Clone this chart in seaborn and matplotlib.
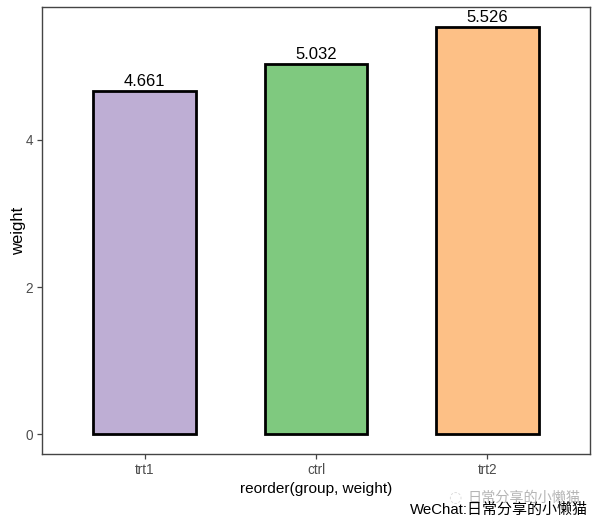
import matplotlib
matplotlib.use("Agg")
import matplotlib.pyplot as plt
import seaborn as sns
import pandas as pd
import matplotlib.patheffects as pe

groups = ["trt1", "ctrl", "trt2"]
weights = [4.661, 5.032, 5.526]
labels = ["4.661", "5.032", "5.526"]
colors = ["#BEAED4", "#7FC97F", "#FDC086"]
yticks = [0, 2, 4]

sns.set_theme(style="white")
plt.rcParams["font.family"] = ["Liberation Sans", "Noto Sans CJK SC", "DejaVu Sans"]

W, H = 598, 526
fig = plt.figure(figsize=(W / 100, H / 100), dpi=100, facecolor="white")
ax = fig.add_axes([41.8 / W, 1 - 454 / H, 548.4 / W, 447 / H])

df = pd.DataFrame({"group": groups, "weight": weights})
sns.barplot(data=df, x="group", y="weight", hue="group", palette=colors, order=groups,
            hue_order=groups, legend=False, width=0.6, saturation=1,
            edgecolor="black", linewidth=2.0, ax=ax, zorder=3)

ax.set_xlim(-0.6, 2.6)
ax.set_ylim(-0.266, 5.80)
ax.set_yticks(yticks)
ax.set_xlabel("reorder(group, weight)", fontsize=11.1, color="black", labelpad=3.5)
ax.set_ylabel("weight", fontsize=12, color="black", labelpad=-0.5)
ax.tick_params(axis="both", length=3.5, width=0.9, color="#444444", labelcolor="#4D4D4D",
               labelsize=9.8, pad=3, bottom=True, left=True)
for s in ax.spines.values():
    s.set_color("#444444")
    s.set_linewidth(1.0)

for i, (v, t) in enumerate(zip(weights, labels)):
    ax.annotate(t, (i, v), xytext=(0, 1.5), textcoords="offset points", ha="center", va="bottom",
                fontsize=12, color="black")

# Watermark and credit, placed in figure pixels
fig.text(524 / W, 1 - 498 / H, "日常分享的小懒猫", fontsize=10.2, color="#B5B5B5",
         ha="center", va="center")
fig.text(455 / W, 1 - 498 / H, "◌", fontsize=11, color="#D8D8D8", ha="center", va="center",
         family=["DejaVu Sans"])
fig.text(588 / W, 1 - 510 / H, "WeChat:日常分享的小懒猫", fontsize=10.8, color="black",
         ha="right", va="center")

fig.savefig("out.png", dpi=100, facecolor="white")
